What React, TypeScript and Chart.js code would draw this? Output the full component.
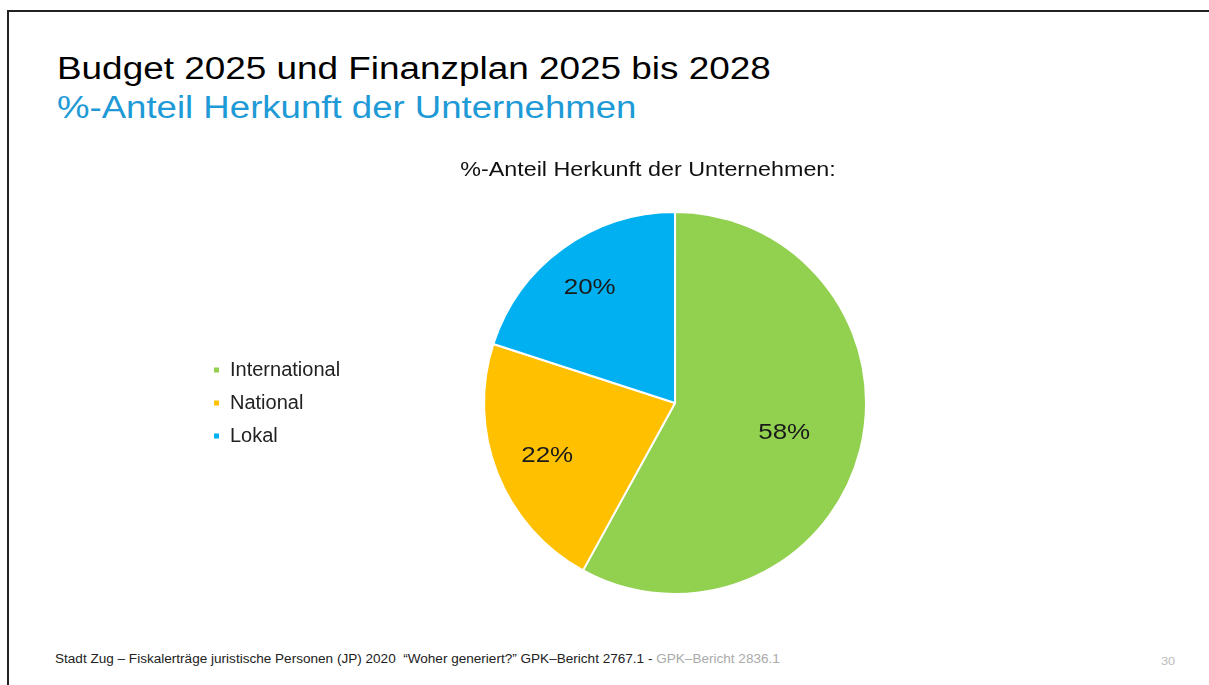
import React, { useEffect, useRef } from "react";
import { Chart, registerables } from "chart.js";

Chart.register(...registerables);

const categories = ["International", "National", "Lokal"];
const values = [58, 22, 20];
const colors = ["#92D050", "#FFC000", "#00B0F0"];
const labelRadius = [0.59, 0.72, 0.76];
const chartTitle = "%-Anteil Herkunft der Unternehmen:";

const FONT = "'Liberation Sans', Arial, sans-serif";
const STRETCH = 1.17;

const pctLabels = {
  id: "pctLabels",
  afterDatasetsDraw(chart: any) {
    const ctx = chart.ctx;
    const meta = chart.getDatasetMeta(0);
    ctx.save();
    ctx.font = `22px ${FONT}`;
    ctx.fillStyle = "#1a1a1a";
    ctx.textAlign = "center";
    ctx.textBaseline = "middle";
    meta.data.forEach((arc: any, i: number) => {
      const mid = (arc.startAngle + arc.endAngle) / 2;
      const r = arc.outerRadius * labelRadius[i];
      const x = arc.x + Math.cos(mid) * r;
      const y = arc.y + Math.sin(mid) * r + 2;
      ctx.save();
      ctx.translate(x, y);
      ctx.scale(1.18, 1);
      ctx.fillText(values[i] + "%", 0, 0);
      ctx.restore();
    });
    ctx.restore();
  },
};

const titlePlugin = {
  id: "stretchedTitle",
  afterDraw(chart: any) {
    const ctx = chart.ctx;
    ctx.save();
    ctx.font = `20px ${FONT}`;
    ctx.fillStyle = "#111";
    ctx.textAlign = "center";
    ctx.textBaseline = "middle";
    ctx.translate(448, 20);
    ctx.scale(1.165, 1);
    ctx.fillText(chartTitle, 0, 0);
    ctx.restore();
  },
};

export default function App() {
  const ref = useRef<HTMLCanvasElement>(null);
  useEffect(() => {
    if (!ref.current) return;
    const chart = new Chart(ref.current, {
      type: "pie",
      data: {
        labels: categories,
        datasets: [
          {
            data: values,
            backgroundColor: colors,
            borderColor: "#ffffff",
            borderWidth: 2,
          },
        ],
      },
      options: {
        animation: false,
        responsive: false,
        maintainAspectRatio: false,
        layout: { padding: { left: 0, right: 104, top: 61, bottom: 0 } },
        plugins: {
          tooltip: { enabled: false },
          title: { display: false },
          legend: {
            position: "left",
            labels: {
              color: "#222",
              font: { family: FONT, size: 20 },
              boxWidth: 7,
              boxHeight: 7,
              padding: 13,
            },
          },
        },
      },
      plugins: [pctLabels, titlePlugin],
    });
    return () => chart.destroy();
  }, []);

  const stretch = (s: number): React.CSSProperties => ({
    transform: `scaleX(${s})`,
    transformOrigin: "left center",
  });

  return (
    <div
      style={{
        position: "fixed",
        left: 0,
        top: 0,
        width: 1209,
        height: 685,
        background: "#fff",
        overflow: "hidden",
        fontFamily: FONT,
      }}
    >
      <div
        style={{
          position: "absolute",
          left: 7,
          top: 10,
          width: 1400,
          height: 900,
          borderTop: "2px solid #222",
          borderLeft: "2px solid #222",
        }}
      />
      <div style={{ position: "absolute", left: 57, top: 50, fontSize: 31, color: "#000", whiteSpace: "nowrap", lineHeight: "38px", ...stretch(1.19) }}>
        Budget 2025 und Finanzplan 2025 bis 2028
      </div>
      <div style={{ position: "absolute", left: 57, top: 89, fontSize: 31, color: "#1E9AD6", whiteSpace: "nowrap", lineHeight: "38px", ...stretch(1.18) }}>
        %-Anteil Herkunft der Unternehmen
      </div>
      <canvas
        ref={ref}
        width={904}
        height={445}
        style={{ position: "absolute", left: 200, top: 150, width: 904, height: 445 }}
      />
      <div style={{ position: "absolute", left: 55, top: 652, fontSize: 12, color: "#222", whiteSpace: "nowrap", ...stretch(1.13) }}>
        Stadt Zug – Fiskalerträge juristische Personen (JP) 2020&nbsp;&nbsp;“Woher generiert?” GPK–Bericht 2767.1 -{" "}
        <span style={{ color: "#aaa" }}>GPK–Bericht 2836.1</span>
      </div>
      <div style={{ position: "absolute", left: 1161, top: 655, fontSize: 11, color: "#bbb", ...stretch(1.15) }}>30</div>
    </div>
  );
}
